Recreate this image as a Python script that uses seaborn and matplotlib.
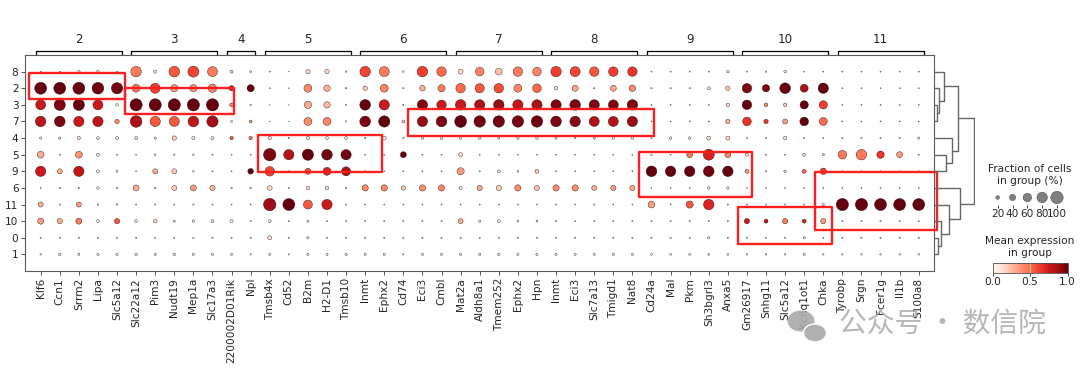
import numpy as np
import pandas as pd
import matplotlib
matplotlib.use('Agg')
import matplotlib.pyplot as plt
import seaborn as sns
from matplotlib.patches import Rectangle, Ellipse
from matplotlib.cm import ScalarMappable
from matplotlib.colors import Normalize

sns.set_style('white')
plt.rcParams['font.family'] = ['DejaVu Sans', 'Noto Sans CJK SC']

# %%
# genes (x), grouped by marker cluster, and clusters (y, dendrogram order)
genes = ['Klf6', 'Ccn1', 'Srrm2', 'Lipa', 'Slc5a12',
         'Slc22a12', 'Pim3', 'Nudt19', 'Mep1a', 'Slc17a3',
         '2200002D01Rik', 'Npl',
         'Tmsb4x', 'Cd52', 'B2m', 'H2-D1', 'Tmsb10',
         'Inmt', 'Ephx2', 'Cd74', 'Eci3', 'Cmbl',
         'Mat2a', 'Aldh8a1', 'Tmem252', 'Ephx2', 'Hpn',
         'Inmt', 'Eci3', 'Slc7a13', 'Tmigd1', 'Nat8',
         'Cd24a', 'Mal', 'Pkm', 'Sh3bgrl3', 'Anxa5',
         'Gm26917', 'Snhg11', 'Slc5a12', 'Kcnq1ot1', 'Chka',
         'Tyrobp', 'Srgn', 'Fcer1g', 'Il1b', 'S100a8']
group_labels = ['2', '3', '4', '5', '6', '7', '8', '9', '10', '11']
group_sizes = [5, 5, 2, 5, 5, 5, 5, 5, 5, 5]
clusters = ['8', '2', '3', '7', '4', '5', '9', '6', '11', '10', '0', '1']

# fraction of cells in group (%), one row per cluster
fraction = [
    [4, 4, 12, 12, 4, 80, 16, 82, 85, 75, 15, 8, 4, 2, 25, 25, 6, 80, 75, 6, 80, 70, 30, 62, 45, 70, 62, 80, 75, 70, 70, 70, 4, 4, 4, 4, 12, 4, 6, 12, 4, 4, 4, 4, 4, 4, 4],
    [95, 95, 95, 92, 88, 55, 75, 50, 50, 60, 32, 48, 4, 3, 55, 42, 6, 25, 55, 5, 35, 48, 70, 68, 70, 55, 62, 20, 38, 5, 38, 42, 5, 5, 5, 15, 25, 70, 50, 82, 55, 78, 4, 4, 4, 4, 4],
    [75, 88, 88, 75, 12, 98, 98, 98, 98, 98, 20, 6, 2, 2, 50, 42, 5, 82, 78, 5, 78, 70, 80, 78, 80, 78, 78, 78, 82, 78, 75, 80, 4, 4, 4, 4, 18, 70, 20, 18, 58, 58, 4, 4, 4, 4, 4],
    [80, 82, 78, 78, 25, 92, 78, 75, 82, 88, 8, 14, 2, 2, 55, 55, 5, 82, 88, 15, 78, 82, 95, 90, 90, 90, 90, 82, 80, 75, 75, 78, 4, 4, 4, 4, 25, 62, 25, 30, 62, 55, 4, 4, 4, 4, 4],
    [10, 10, 16, 14, 14, 16, 10, 25, 16, 16, 18, 18, 18, 6, 18, 14, 14, 6, 22, 5, 12, 14, 12, 12, 10, 12, 12, 10, 6, 10, 12, 12, 5, 12, 12, 22, 22, 5, 5, 18, 5, 5, 5, 5, 5, 5, 10],
    [45, 5, 45, 15, 5, 4, 6, 6, 6, 4, 4, 4, 100, 78, 88, 82, 78, 4, 4, 38, 4, 4, 22, 4, 4, 4, 4, 4, 4, 4, 4, 4, 6, 4, 38, 85, 38, 15, 5, 5, 14, 10, 62, 80, 50, 38, 5],
    [78, 30, 78, 15, 8, 4, 30, 30, 6, 4, 4, 35, 70, 5, 38, 55, 65, 4, 4, 4, 4, 4, 48, 5, 14, 8, 22, 4, 4, 4, 4, 4, 82, 80, 80, 82, 80, 22, 5, 12, 22, 42, 4, 4, 4, 4, 4],
    [4, 6, 6, 12, 6, 38, 6, 30, 38, 32, 6, 6, 28, 5, 20, 20, 6, 40, 40, 25, 40, 40, 16, 32, 32, 40, 30, 40, 40, 30, 32, 32, 4, 4, 4, 12, 12, 4, 4, 4, 4, 4, 4, 4, 4, 4, 4],
    [30, 5, 30, 6, 6, 5, 5, 5, 5, 5, 4, 4, 100, 95, 65, 78, 5, 4, 4, 4, 4, 4, 4, 4, 4, 4, 4, 4, 4, 4, 4, 4, 45, 4, 48, 80, 5, 4, 4, 4, 4, 10, 98, 98, 95, 95, 95],
    [38, 32, 38, 14, 32, 14, 20, 10, 12, 14, 16, 5, 14, 5, 10, 5, 5, 5, 5, 5, 5, 5, 30, 10, 14, 8, 8, 5, 5, 5, 5, 5, 5, 5, 5, 5, 5, 32, 22, 32, 22, 32, 5, 5, 5, 5, 5],
    [5, 5, 5, 5, 5, 5, 5, 5, 5, 5, 5, 5, 22, 5, 10, 5, 5, 5, 5, 5, 5, 5, 5, 5, 5, 5, 5, 5, 5, 5, 5, 5, 5, 5, 5, 10, 5, 5, 5, 5, 10, 5, 5, 5, 5, 5, 5],
    [6, 12, 10, 10, 10, 12, 10, 12, 10, 10, 10, 5, 10, 5, 10, 10, 10, 10, 10, 5, 10, 10, 10, 10, 12, 10, 10, 10, 10, 10, 10, 10, 8, 8, 8, 8, 8, 6, 6, 6, 10, 6, 6, 6, 6, 6, 6],
]

# mean expression in group (scaled 0-1)
mean_expr = [
    [.05, .05, .1, .1, .05, .45, .12, .55, .6, .45, .15, .1, .05, .05, .15, .15, .05, .6, .45, .05, .62, .5, .15, .42, .22, .45, .42, .62, .6, .55, .62, .65, .05, .05, .05, .05, .1, .05, .05, .1, .05, .05, .05, .05, .05, .05, .05],
    [1, 1, 1, .98, .97, .45, .62, .35, .35, .42, .7, 1, .05, .05, .4, .28, .1, .2, .42, .05, .3, .45, .5, .55, .58, .42, .5, .15, .32, .05, .32, .4, .05, .05, .05, .1, .2, .95, .95, 1, .85, 1, .05, .05, .05, .05, .05],
    [.75, .95, 1, .75, .1, 1, 1, 1, 1, 1, .4, .05, .05, .05, .3, .25, .05, 1, .75, .05, .95, .75, .75, .85, .9, .78, .85, .95, .95, .95, .95, .95, .05, .05, .05, .05, .15, 1, .4, .2, 1, .62, .05, .05, .05, .05, .05],
    [.8, .95, .75, .8, .4, .85, .55, .55, .78, .88, .1, .35, .05, .05, .4, .42, .05, .95, 1, .18, .9, .95, 1, .97, .98, .97, .98, .95, .93, .85, .82, .9, .05, .05, .05, .05, .3, .65, .65, .35, 1, .5, .05, .05, .05, .05, .05],
    [.1, .1, .15, .1, .1, .12, .08, .2, .1, .12, .55, .45, .1, .05, .1, .1, .1, .05, .1, .05, .1, .12, .1, .1, .1, .1, .1, .08, .08, .08, .08, .08, .05, .1, .1, .15, .15, .05, .05, .12, .05, .05, .05, .05, .05, .05, .05],
    [.3, .05, .38, .1, .05, .05, .05, .05, .05, .05, .05, .05, .95, .82, 1, .97, .97, .05, .05, 1, .05, .05, .15, .05, .05, .05, .05, .05, .05, .05, .05, .05, .05, .05, .45, .72, .42, .15, .05, .05, .15, .1, .45, .45, .65, .35, .05],
    [.75, .3, .78, .1, .05, .05, .3, .2, .05, .05, .05, 1, .6, .05, .55, .7, .85, .05, .05, .05, .05, .05, .35, .05, .1, .05, .2, .05, .05, .05, .05, .05, 1, 1, 1, .98, 1, .35, .05, .1, .5, .6, .05, .05, .05, .05, .05],
    [.05, .05, .05, .1, .05, .3, .05, .2, .35, .28, .05, .05, .15, .05, .12, .12, .05, .4, .42, .2, .4, .42, .12, .32, .2, .4, .25, .4, .4, .3, .35, .32, .05, .05, .05, .1, .1, .05, .05, .05, .05, .05, .05, .05, .05, .05, .05],
    [.3, .05, .35, .05, .05, .05, .05, .05, .05, .05, .05, .05, .88, 1, .55, .75, .05, .05, .05, .05, .05, .05, .05, .05, .05, .05, .05, .05, .05, .05, .05, .05, .35, .05, .55, .7, .05, .05, .05, .05, .05, .1, 1, 1, 1, 1, 1],
    [.35, .3, .45, .1, .55, .1, .15, .08, .08, .1, .1, .05, .1, .05, .08, .05, .05, .05, .05, .05, .05, .05, .3, .08, .1, .05, .05, .05, .05, .05, .05, .05, .05, .05, .05, .05, .05, .75, .75, .45, .7, .35, .05, .05, .05, .05, .05],
    [.05, .05, .05, .05, .05, .05, .05, .05, .05, .05, .05, .05, .12, .05, .08, .05, .05, .05, .05, .05, .05, .05, .05, .05, .05, .05, .05, .05, .05, .05, .05, .05, .05, .05, .05, .08, .05, .05, .05, .05, .08, .05, .05, .05, .05, .05, .05],
    [.08, .08, .08, .08, .08, .08, .08, .08, .08, .08, .08, .05, .08, .05, .08, .08, .08, .08, .08, .05, .08, .08, .08, .08, .08, .08, .08, .08, .08, .08, .08, .08, .08, .08, .08, .08, .08, .05, .05, .05, .08, .05, .05, .05, .05, .05, .05],
]

# dendrogram merges: (left, right, height); ints >= 100 refer to earlier merges
dendro_merges = [('3', '7', 0.08), ('2', 100, 0.125), ('8', 101, 0.25),
                 ('5', '9', 0.31), ('4', 103, 0.44), (102, 104, 0.6),
                 ('0', '1', 0.1), ('10', 106, 0.17), ('11', 107, 0.375),
                 ('6', 108, 0.64), (105, 109, 1.0)]

# red highlight boxes drawn over the dot plot (x0, y0, x1, y1 in cell units)
highlight_boxes = [(-0.63, 0.06, 4.4, 1.62), (4.43, 0.96, 10.14, 2.57),
                   (11.37, 3.83, 17.86, 6.03), (19.22, 2.22, 32.13, 3.9),
                   (31.36, 4.81, 37.28, 7.57), (36.51, 8.17, 41.47, 10.38),
                   (40.56, 6.03, 46.94, 9.54)]

size_legend_values = [20, 40, 60, 80, 100]
SMAX = 80
FS = 7.6

# %%
df = pd.DataFrame({
    'x': np.tile(np.arange(len(genes)), len(clusters)),
    'y': np.repeat(np.arange(len(clusters)), len(genes)),
    'frac': np.ravel(fraction),
    'expr': np.ravel(mean_expr),
})
df['dot'] = (df['frac'] / 100) ** 1.5

W, H = 1080, 369
fig = plt.figure(figsize=(W / 100, H / 100), dpi=100)


def px_axes(x0, y0, x1, y1):
    return fig.add_axes([x0 / W, 1 - y1 / H, (x1 - x0) / W, (y1 - y0) / H])


ax = px_axes(25.4, 55, 934, 271)
sns.scatterplot(data=df, x='x', y='y', hue='expr', size='dot', palette='Reds',
                hue_norm=(0, 1), sizes=(0, SMAX), size_norm=(0, 1),
                edgecolor='black', linewidth=0.25, legend=False, ax=ax, zorder=3)
ax.set_xlim(-0.8, len(genes) - 0.2)
ax.set_ylim(len(clusters), -1)
ax.set_xticks(range(len(genes)))
ax.set_xticklabels(genes, rotation=90, fontsize=FS)
ax.set_yticks(range(len(clusters)))
ax.set_yticklabels(clusters, fontsize=FS)
ax.set_xlabel('')
ax.set_ylabel('')
ax.tick_params(axis='both', length=3, width=0.6, color='0.2', pad=2, bottom=True, left=True)
for s in ax.spines.values():
    s.set_color('0.35')
    s.set_linewidth(0.8)

for x0, y0, x1, y1 in highlight_boxes:
    ax.add_patch(Rectangle((x0, y0), x1 - x0, y1 - y0, fill=False, edgecolor='#ff1f1f',
                           linewidth=1.7, joinstyle='round', clip_on=False, zorder=5))

# gene group brackets
bax = px_axes(25.4, 30, 934, 55)
bax.set_xlim(ax.get_xlim())
bax.set_ylim(0, 1)
bax.axis('off')
start = 0
for lab, n in zip(group_labels, group_sizes):
    left, right = start - 0.25, start + n - 1 + 0.25
    bax.plot([left, left, right, right], [0, 0.18, 0.18, 0], color='black', lw=0.9)
    bax.text((left + right) / 2, 0.62, lab, ha='center', va='center', fontsize=FS + 1)
    start += n

# dendrogram
dax = px_axes(934, 55, 975, 271)
dax.set_ylim(ax.get_ylim())
dax.set_xlim(0, 1.025)
dax.axis('off')
leaf_pos = {c: i for i, c in enumerate(clusters)}
nodes = []


def node_info(k):
    if isinstance(k, str):
        return leaf_pos[k], 0.0
    return nodes[k - 100]


for a, b, h in dendro_merges:
    ya, ha = node_info(a)
    yb, hb = node_info(b)
    dax.plot([ha, h, h, hb], [ya, ya, yb, yb], color='0.4', lw=1.0)
    nodes.append(((ya + yb) / 2, h))

# size legend
fig.text(1030 / W, 1 - 175 / H, 'Fraction of cells\nin group (%)', ha='center', va='center',
         fontsize=FS, linespacing=1.25)
sax = px_axes(990, 190, 1065, 205)
sax.scatter(range(len(size_legend_values)), [0] * len(size_legend_values),
            s=[(v / 100) ** 1.5 * SMAX for v in size_legend_values],
            color='gray', edgecolor='black', linewidth=0.2)
sax.set_xlim(-0.52, 4.54)
sax.set_ylim(-0.5, 0.5)
sax.set_xticks(range(len(size_legend_values)))
sax.set_xticklabels([str(v) for v in size_legend_values], fontsize=FS)
sax.set_yticks([])
sax.tick_params(axis='x', length=2, width=0.6, pad=1, bottom=True)
for s in sax.spines.values():
    s.set_visible(False)

# colour bar
fig.text(1030 / W, 1 - 247.5 / H, 'Mean expression\nin group', ha='center', va='center',
         fontsize=FS, linespacing=1.25)
cax = px_axes(992.5, 263.3, 1067.7, 272.7)
cb = fig.colorbar(ScalarMappable(norm=Normalize(0, 1), cmap='Reds'), cax=cax, orientation='horizontal')
cb.set_ticks([0, 0.5, 1.0])
cb.set_ticklabels(['0.0', '0.5', '1.0'])
cax.tick_params(labelsize=FS, length=2, width=0.6, pad=1)
cax.axvline(0.5, color='white', lw=0.6, alpha=0.8)
cb.outline.set_edgecolor('0.3')
cb.outline.set_linewidth(0.6)

# watermark
wm = '#a9a9a9'
fig.patches.append(Ellipse((801 / W, 1 - 321 / H), 27 / W, 21 / H, transform=fig.transFigure,
                           facecolor=wm, edgecolor='none', alpha=0.9, zorder=10))
fig.patches.append(Ellipse((815 / W, 1 - 333 / H), 23 / W, 18 / H, transform=fig.transFigure,
                           facecolor=wm, edgecolor='white', linewidth=1.2, alpha=0.9, zorder=11))
fig.text(942 / W, 1 - 324 / H, '公众号 · 数信院', ha='center', va='center', fontsize=20,
         color=wm, alpha=0.85, family=['Noto Sans CJK SC', 'DejaVu Sans'], zorder=12)

fig.savefig('out.png', dpi=100)
